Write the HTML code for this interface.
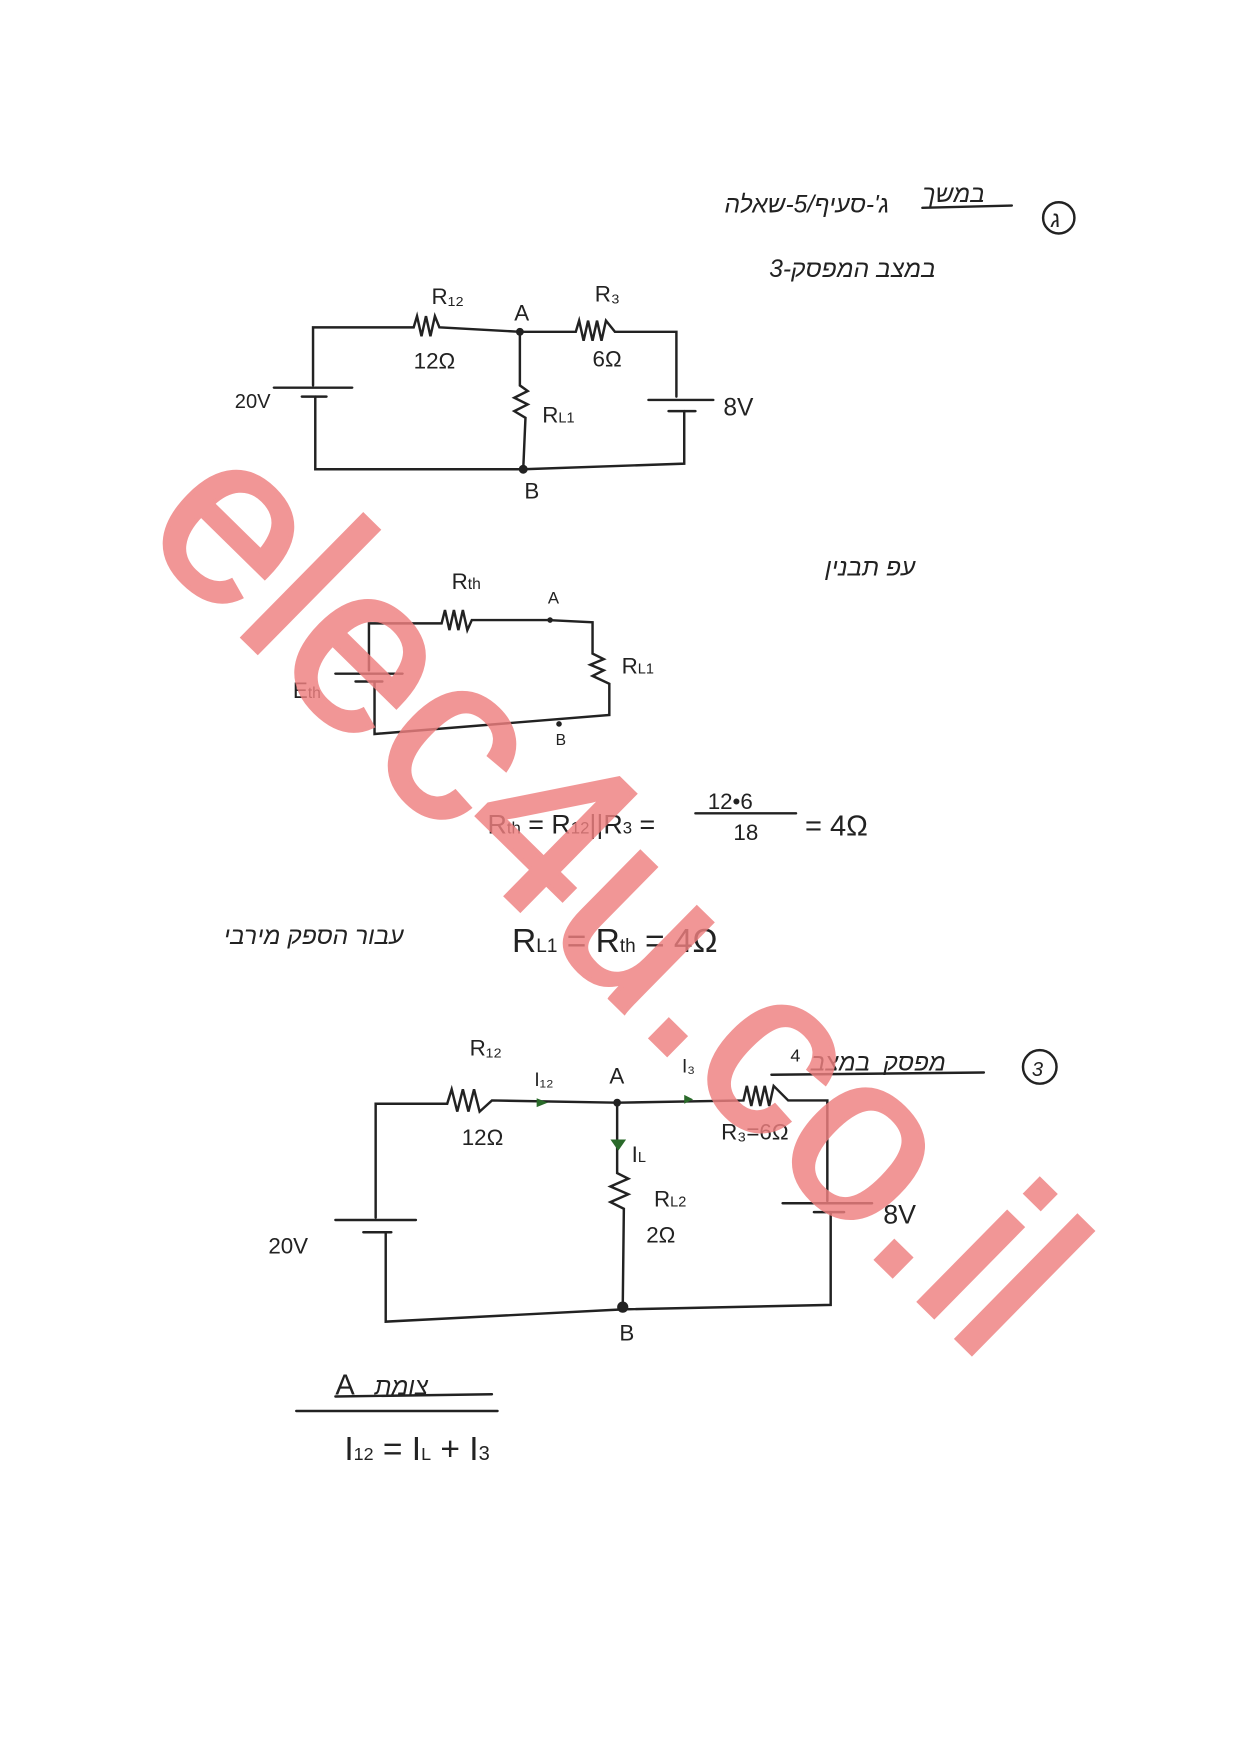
<!DOCTYPE html>
<html><head><meta charset="utf-8"><style>
html,body{margin:0;padding:0;background:#fff}
svg{display:block}
text{font-family:"Liberation Sans","DejaVu Sans",sans-serif;fill:#222}
.h{font-family:"Liberation Serif","DejaVu Sans",serif;font-style:italic}
</style></head><body>
<svg width="1241" height="1754" viewBox="0 0 1110 1570" preserveAspectRatio="none" xmlns="http://www.w3.org/2000/svg">
<rect width="1110" height="1570" fill="#fff"/>
<g stroke="#222" stroke-width="2.2" fill="none" stroke-linecap="round">
<polyline points="280,345 280,293 370,293 373,283 377,301 381,283 385,301 389,283 393,293 465,297 515,297 518,287 522,305 526,287 530,305 534,287 538,305 542,287 550,297 605,297 605,355"/>
<line x1="245" y1="347" x2="315" y2="347"/><line x1="270" y1="355" x2="292" y2="355"/>
<polyline points="282,355 282,420 468,420 612,415 612,368"/>
<line x1="580" y1="358" x2="638" y2="358"/><line x1="598" y1="368" x2="622" y2="368"/>
<polyline points="465,297 465,345 472,350 460,356 472,362 460,368 470,374 468,420"/>
<polyline points="330,600 330,558 395,558 398,546 402,564 406,546 410,564 414,546 418,564 422,555 490,555 530,557 530,585 540,590 528,595 540,600 530,605 545,612 545,640 335,657 335,610"/>
<line x1="300" y1="603" x2="360" y2="603"/><line x1="318" y1="610" x2="342" y2="610"/>
<polyline points="336,1090 336,988 400,988 404,975 409,995 414,975 419,995 424,975 429,995 440,985 552,987 665,985 668,972 672,990 676,972 680,990 684,972 688,990 692,972 705,985 740,985 740,1075"/>
<line x1="300" y1="1092" x2="372" y2="1092"/><line x1="325" y1="1103" x2="350" y2="1103"/>
<polyline points="345,1103 345,1183 557,1172 743,1168 743,1085"/>
<line x1="700" y1="1077" x2="780" y2="1077"/><line x1="728" y1="1085" x2="755" y2="1085"/>
<polyline points="552,987 552,1050 562,1055 546,1062 562,1069 546,1076 558,1082 557,1170"/>
<line x1="622" y1="728" x2="712" y2="728"/>
<line x1="265" y1="1263" x2="445" y2="1263"/>
<line x1="300" y1="1250" x2="440" y2="1248"/>
<line x1="825" y1="186" x2="905" y2="184"/>
<line x1="690" y1="962" x2="880" y2="960"/>
<circle cx="947" cy="195" r="14"/><circle cx="930" cy="955" r="15"/>
</g>
<g fill="#222"><circle cx="465" cy="297" r="3.5"/><circle cx="468" cy="420" r="4"/><circle cx="552" cy="987" r="3.5"/><circle cx="557" cy="1170" r="5"/><circle cx="492" cy="555" r="2.5"/><circle cx="500" cy="648" r="2.5"/></g>
<g fill="#2a6a2a"><polygon points="480,983 490,987 480,991"/><polygon points="612,980 620,984 612,988"/><polygon points="546,1020 560,1020 553,1030"/></g>
<g font-size="20">
<text x="386" y="272">R₁₂</text><text x="370" y="330">12Ω</text><text x="460" y="287">A</text>
<text x="532" y="270">R₃</text><text x="530" y="328">6Ω</text><text x="485" y="378">R<tspan font-size="13">L1</tspan></text>
<text x="210" y="365" font-size="18">20V</text><text x="647" y="372" font-size="22">8V</text><text x="469" y="446">B</text>
<text x="404" y="527">R<tspan font-size="14">th</tspan></text><text x="490" y="540" font-size="15">A</text>
<text x="556" y="603">R<tspan font-size="13">L1</tspan></text><text x="262" y="625">E<tspan font-size="14">th</tspan></text><text x="497" y="667" font-size="14">B</text>
<text x="436" y="746" font-size="24">R<tspan font-size="15">th</tspan> = R<tspan font-size="15">12</tspan>||R<tspan font-size="15">3</tspan> =</text>
<text x="633" y="724" font-size="20">12•6</text><text x="656" y="752" font-size="20">18</text><text x="720" y="748" font-size="26">= 4Ω</text>
<text x="458" y="852" font-size="30">R<tspan font-size="17">L1</tspan> = R<tspan font-size="17">th</tspan> = 4Ω</text>
<text x="420" y="945">R₁₂</text><text x="478" y="972" font-size="17" fill="#2a6a2a">I₁₂</text><text x="545" y="970">A</text>
<text x="610" y="960" font-size="17" fill="#2a6a2a">I₃</text><text x="413" y="1025">12Ω</text><text x="565" y="1040">I<tspan font-size="13">L</tspan></text>
<text x="585" y="1080">R<tspan font-size="13">L2</tspan></text><text x="578" y="1112">2Ω</text><text x="645" y="1020">R₃=6Ω</text>
<text x="790" y="1095" font-size="24">8V</text><text x="240" y="1122">20V</text><text x="554" y="1200">B</text>
<text x="300" y="1248" font-size="26">A</text>
<text x="308" y="1307" font-size="30">I<tspan font-size="16">12</tspan> = I<tspan font-size="16">L</tspan> + I<tspan font-size="18">3</tspan></text>
<text x="707" y="950" font-size="16">4</text>
</g>
<g class="h" font-size="22">
<text x="648" y="190">ג'-סעיף/5-שאלה</text><text x="825" y="181">במשך</text><text x="940" y="203" font-size="20">ג</text>
<text x="688" y="248">3-במצב המפסק</text>
<text x="738" y="515">עפ תבנין</text>
<text x="200" y="845">עבור הספק מירבי</text>
<text x="725" y="958">במצב</text><text x="790" y="958">מפסק</text><text x="923" y="963" font-size="18">3</text>
<text x="335" y="1248">צומת</text>
</g>
<text transform="translate(552,798) rotate(44.5)" text-anchor="middle" dominant-baseline="central" font-size="212" style="fill:#ee7f7f;opacity:0.82;stroke:#ee7f7f;stroke-width:4">elec4u.co.il</text>
</svg>
</body></html>
